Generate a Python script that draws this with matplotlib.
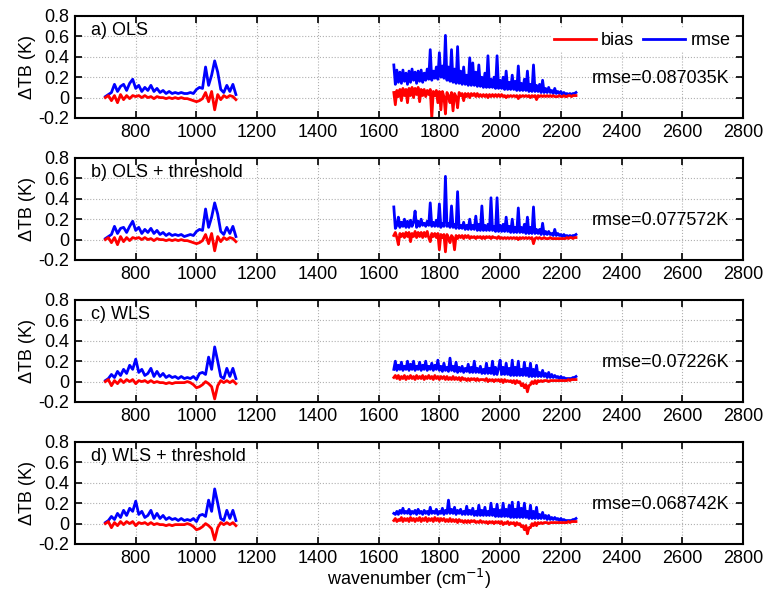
import numpy as np
import matplotlib
matplotlib.use("Agg")
import matplotlib.pyplot as plt

plt.rcParams["font.family"] = ["Liberation Sans", "DejaVu Sans"]
plt.rcParams["font.size"] = 13

# wavenumber grids of the two bands (cm-1)
wn_lw = np.arange(700, 1131, 10)
wn_sw = np.arange(1650, 2251, 5)

panel_titles = ["a) OLS", "b) OLS + threshold", "c) WLS", "d) WLS + threshold"]
panel_rmse = ["rmse=0.087035K", "rmse=0.077572K", "rmse=0.07226K", "rmse=0.068742K"]

# ---- a) OLS
a_rmse_lw = [0.01, 0.03, 0.05, 0.13, 0.06, 0.11, 0.13, 0.07, 0.14, 0.18,
             0.09, 0.12, 0.06, 0.10, 0.07, 0.12, 0.06, 0.09, 0.05, 0.07,
             0.04, 0.06, 0.04, 0.05, 0.04, 0.05, 0.04, 0.04, 0.05, 0.04,
             0.08, 0.10, 0.09, 0.30, 0.12, 0.22, 0.36, 0.25, 0.08, 0.05,
             0.12, 0.06, 0.13, 0.03]
a_bias_lw = [0.00, 0.02, -0.03, 0.02, -0.05, 0.03, -0.02, 0.02, -0.01, 0.02,
             0.01, 0.02, 0.00, 0.02, 0.00, 0.01, -0.01, 0.01, 0.00, 0.00,
             -0.01, 0.00, -0.01, 0.00, -0.01, 0.00, -0.01, -0.01, -0.02, -0.03,
             -0.04, -0.03, -0.01, 0.05, -0.04, 0.06, -0.12, 0.03, -0.02, 0.02,
             0.00, 0.02, 0.01, -0.02]
a_rmse_sw = [0.32, 0.13, 0.27, 0.15, 0.25, 0.14, 0.27, 0.16, 0.24, 0.13,
             0.26, 0.15, 0.28, 0.17, 0.25, 0.14, 0.26, 0.16, 0.27, 0.15,
             0.24, 0.17, 0.28, 0.18, 0.47, 0.17, 0.26, 0.19, 0.30, 0.18,
             0.44, 0.20, 0.31, 0.19, 0.61, 0.17, 0.30, 0.16, 0.47, 0.15,
             0.28, 0.14, 0.50, 0.14, 0.26, 0.13, 0.30, 0.13, 0.22, 0.12,
             0.39, 0.12, 0.34, 0.12, 0.25, 0.11, 0.32, 0.11, 0.20, 0.10,
             0.24, 0.10, 0.41, 0.10, 0.18, 0.10, 0.20, 0.09, 0.41, 0.09,
             0.17, 0.09, 0.20, 0.08, 0.26, 0.08, 0.15, 0.08, 0.22, 0.08,
             0.16, 0.07, 0.31, 0.07, 0.14, 0.07, 0.18, 0.07, 0.26, 0.06,
             0.13, 0.06, 0.32, 0.06, 0.12, 0.06, 0.13, 0.05, 0.17, 0.05,
             0.09, 0.05, 0.10, 0.05, 0.07, 0.04, 0.09, 0.04, 0.06, 0.04,
             0.06, 0.03, 0.05, 0.03, 0.04, 0.03, 0.04, 0.03, 0.04, 0.04,
             0.05]
a_bias_sw = [0.05, -0.07, 0.07, 0.01, 0.08, -0.03, 0.09, 0.02, 0.08, -0.05,
             0.09, 0.02, 0.10, 0.00, 0.09, 0.03, 0.10, -0.04, 0.08, 0.02,
             0.08, 0.01, 0.07, 0.03, 0.08, -0.20, 0.06, 0.02, 0.07, -0.05,
             0.06, -0.12, 0.06, 0.01, -0.16, 0.05, 0.02, -0.05, 0.05, -0.13,
             0.04, 0.01, -0.10, 0.05, 0.02, 0.04, -0.03, 0.04, 0.01, 0.04,
             0.00, 0.04, 0.02, 0.04, 0.01, 0.04, 0.01, 0.03, 0.01, 0.03,
             0.01, 0.03, 0.00, 0.03, 0.01, 0.03, 0.01, 0.03, 0.01, 0.03,
             0.01, 0.03, 0.01, 0.02, 0.00, 0.02, 0.01, 0.02, 0.01, 0.02,
             0.01, 0.02, -0.01, 0.02, 0.01, 0.02, 0.01, 0.02, 0.01, 0.02,
             0.00, 0.02, 0.01, 0.02, -0.02, 0.02, 0.01, 0.02, 0.01, 0.02,
             0.01, 0.02, 0.01, 0.02, 0.01, 0.02, 0.01, 0.01, 0.01, 0.02,
             0.01, 0.01, 0.02, 0.01, 0.01, 0.02, 0.02, 0.01, 0.02, 0.02,
             0.02]

# ---- b) OLS + threshold
b_rmse_lw = [0.01, 0.03, 0.05, 0.13, 0.06, 0.11, 0.12, 0.07, 0.13, 0.18,
             0.09, 0.12, 0.06, 0.10, 0.07, 0.11, 0.06, 0.09, 0.05, 0.07,
             0.04, 0.06, 0.04, 0.05, 0.04, 0.05, 0.03, 0.04, 0.05, 0.04,
             0.08, 0.10, 0.09, 0.30, 0.12, 0.22, 0.36, 0.25, 0.08, 0.05,
             0.12, 0.06, 0.13, 0.03]
b_bias_lw = [0.00, 0.02, -0.03, 0.02, -0.05, 0.03, -0.02, 0.02, -0.01, 0.02,
             0.01, 0.02, 0.00, 0.02, 0.00, 0.01, -0.01, 0.01, 0.00, 0.00,
             -0.01, 0.00, -0.01, 0.00, -0.01, 0.00, -0.01, -0.01, -0.02, -0.03,
             -0.04, -0.03, -0.01, 0.05, -0.04, 0.06, -0.11, 0.03, -0.02, 0.02,
             0.00, 0.02, 0.01, -0.02]
b_rmse_sw = [0.32, 0.11, 0.14, 0.22, 0.12, 0.17, 0.13, 0.20, 0.12, 0.18,
             0.12, 0.19, 0.13, 0.17, 0.28, 0.12, 0.18, 0.13, 0.20, 0.14,
             0.16, 0.13, 0.18, 0.14, 0.36, 0.13, 0.17, 0.13, 0.19, 0.13,
             0.35, 0.12, 0.16, 0.13, 0.62, 0.13, 0.16, 0.12, 0.33, 0.12,
             0.15, 0.11, 0.47, 0.11, 0.14, 0.11, 0.17, 0.10, 0.14, 0.10,
             0.20, 0.10, 0.14, 0.10, 0.23, 0.09, 0.15, 0.09, 0.33, 0.09,
             0.14, 0.09, 0.15, 0.09, 0.41, 0.09, 0.13, 0.08, 0.41, 0.08,
             0.14, 0.08, 0.15, 0.08, 0.22, 0.08, 0.13, 0.07, 0.20, 0.07,
             0.12, 0.07, 0.31, 0.07, 0.12, 0.07, 0.15, 0.06, 0.22, 0.06,
             0.12, 0.06, 0.32, 0.06, 0.10, 0.06, 0.10, 0.05, 0.16, 0.05,
             0.08, 0.05, 0.08, 0.05, 0.06, 0.04, 0.10, 0.04, 0.06, 0.04,
             0.05, 0.03, 0.05, 0.03, 0.04, 0.03, 0.04, 0.03, 0.04, 0.04,
             0.05]
b_bias_sw = [0.04, 0.07, 0.02, -0.05, 0.06, 0.03, 0.06, 0.02, 0.07, 0.03,
             0.07, -0.02, 0.06, 0.03, 0.08, 0.02, 0.07, 0.03, 0.07, 0.02,
             0.07, 0.03, 0.08, 0.02, -0.02, 0.06, 0.03, 0.06, 0.02, 0.06,
             -0.10, 0.05, 0.02, 0.05, -0.12, 0.05, 0.02, -0.03, 0.04, 0.02,
             -0.10, 0.04, 0.01, 0.04, 0.02, 0.04, 0.01, 0.04, 0.02, 0.04,
             0.01, 0.03, 0.02, 0.03, 0.01, 0.03, 0.02, 0.03, 0.01, 0.03,
             0.01, 0.03, 0.02, 0.03, 0.01, 0.03, 0.02, 0.02, 0.01, 0.03,
             0.01, 0.02, 0.01, 0.02, 0.01, 0.02, 0.01, 0.02, 0.01, 0.02,
             0.01, 0.02, 0.00, 0.02, 0.01, 0.02, 0.01, 0.02, 0.01, 0.02,
             0.01, 0.02, -0.04, 0.01, 0.02, 0.01, 0.02, 0.01, 0.01, 0.02,
             0.01, 0.01, 0.01, 0.02, 0.01, 0.01, 0.01, 0.01, 0.01, 0.01,
             0.01, 0.01, 0.01, 0.01, 0.02, 0.01, 0.02, 0.02, 0.01, 0.02,
             0.02]

# ---- c) WLS
c_rmse_lw = [0.01, 0.03, 0.07, 0.04, 0.10, 0.06, 0.12, 0.08, 0.16, 0.12,
             0.22, 0.09, 0.12, 0.06, 0.08, 0.13, 0.05, 0.10, 0.05, 0.08,
             0.04, 0.06, 0.04, 0.05, 0.03, 0.05, 0.03, 0.04, 0.03, 0.05,
             0.02, 0.08, 0.09, 0.07, 0.24, 0.12, 0.34, 0.20, 0.05, 0.03,
             0.13, 0.05, 0.13, 0.03]
c_bias_lw = [0.00, 0.02, -0.04, 0.01, -0.02, 0.02, -0.01, 0.02, 0.00, 0.02,
             -0.02, 0.01, 0.00, 0.01, -0.01, 0.01, -0.01, 0.00, -0.01, -0.01,
             -0.02, -0.01, -0.02, -0.01, -0.01, -0.01, -0.01, 0.00, -0.01, -0.03,
             -0.06, -0.05, -0.03, 0.00, -0.02, -0.05, -0.17, -0.04, 0.01, -0.01,
             0.01, -0.01, 0.01, -0.02]
c_rmse_sw = [0.12, 0.20, 0.11, 0.16, 0.12, 0.19, 0.11, 0.15, 0.12, 0.20,
             0.11, 0.17, 0.12, 0.20, 0.11, 0.15, 0.12, 0.19, 0.11, 0.16,
             0.12, 0.20, 0.11, 0.15, 0.12, 0.18, 0.11, 0.16, 0.12, 0.21,
             0.11, 0.15, 0.10, 0.18, 0.11, 0.14, 0.10, 0.23, 0.11, 0.15,
             0.10, 0.19, 0.09, 0.14, 0.10, 0.15, 0.09, 0.13, 0.10, 0.17,
             0.09, 0.14, 0.09, 0.20, 0.09, 0.13, 0.09, 0.15, 0.08, 0.12,
             0.08, 0.18, 0.08, 0.13, 0.08, 0.20, 0.07, 0.14, 0.07, 0.13,
             0.21, 0.07, 0.14, 0.07, 0.18, 0.07, 0.13, 0.06, 0.21, 0.06,
             0.14, 0.06, 0.20, 0.06, 0.12, 0.06, 0.19, 0.06, 0.13, 0.05,
             0.18, 0.05, 0.12, 0.05, 0.16, 0.05, 0.09, 0.05, 0.11, 0.05,
             0.08, 0.04, 0.09, 0.04, 0.07, 0.04, 0.06, 0.04, 0.05, 0.03,
             0.05, 0.03, 0.04, 0.03, 0.03, 0.03, 0.03, 0.03, 0.04, 0.04,
             0.05]
c_bias_sw = [0.04, 0.06, 0.03, 0.06, 0.02, 0.05, 0.03, 0.06, 0.02, 0.05,
             0.03, 0.06, 0.03, 0.05, 0.02, 0.06, 0.03, 0.05, 0.03, 0.06,
             0.02, 0.05, 0.03, 0.06, 0.03, 0.05, 0.02, 0.06, 0.03, 0.05,
             0.02, 0.05, 0.03, 0.05, 0.02, 0.05, 0.02, 0.04, 0.02, 0.05,
             0.02, 0.04, 0.02, 0.04, 0.01, 0.04, 0.02, 0.03, 0.01, 0.03,
             0.01, 0.03, 0.02, 0.03, 0.01, 0.03, 0.01, 0.02, 0.02, 0.02,
             0.01, 0.03, 0.00, 0.02, 0.01, 0.02, 0.00, 0.02, 0.01, 0.02,
             0.00, 0.02, -0.01, 0.02, 0.00, 0.01, 0.00, 0.01, -0.01, 0.01,
             -0.02, 0.01, -0.01, 0.00, -0.04, -0.02, -0.06, -0.03, -0.10, -0.04,
             -0.03, 0.00, -0.02, 0.01, -0.02, 0.01, 0.00, 0.01, 0.00, 0.01,
             0.01, 0.01, 0.00, 0.01, 0.01, 0.01, 0.01, 0.01, 0.01, 0.01,
             0.01, 0.01, 0.01, 0.01, 0.01, 0.02, 0.01, 0.02, 0.02, 0.02,
             0.02]

# ---- d) WLS + threshold
d_rmse_lw = [0.01, 0.03, 0.07, 0.04, 0.10, 0.06, 0.13, 0.08, 0.15, 0.12,
             0.22, 0.09, 0.12, 0.06, 0.08, 0.13, 0.05, 0.10, 0.05, 0.08,
             0.04, 0.06, 0.04, 0.05, 0.03, 0.05, 0.03, 0.04, 0.03, 0.05,
             0.02, 0.08, 0.09, 0.07, 0.23, 0.12, 0.34, 0.20, 0.05, 0.03,
             0.13, 0.05, 0.13, 0.03]
d_bias_lw = [0.00, 0.02, -0.04, 0.01, -0.02, 0.02, -0.01, 0.02, 0.00, 0.02,
             -0.02, 0.01, 0.00, 0.01, -0.01, 0.01, -0.01, 0.00, -0.01, -0.01,
             -0.02, -0.01, -0.02, -0.01, -0.01, -0.01, -0.01, 0.00, -0.01, -0.03,
             -0.06, -0.05, -0.03, 0.00, -0.02, -0.05, -0.16, -0.04, 0.01, -0.01,
             0.01, -0.01, 0.01, -0.02]
d_rmse_sw = [0.10, 0.09, 0.12, 0.09, 0.13, 0.10, 0.15, 0.10, 0.12, 0.10,
             0.14, 0.09, 0.12, 0.10, 0.13, 0.09, 0.14, 0.10, 0.12, 0.09,
             0.13, 0.10, 0.12, 0.09, 0.16, 0.10, 0.12, 0.10, 0.14, 0.09,
             0.12, 0.10, 0.15, 0.09, 0.13, 0.10, 0.23, 0.10, 0.14, 0.10,
             0.16, 0.09, 0.13, 0.10, 0.14, 0.09, 0.12, 0.09, 0.17, 0.09,
             0.13, 0.09, 0.15, 0.08, 0.12, 0.08, 0.18, 0.08, 0.13, 0.08,
             0.16, 0.08, 0.12, 0.08, 0.20, 0.08, 0.14, 0.07, 0.19, 0.07,
             0.13, 0.07, 0.20, 0.07, 0.14, 0.07, 0.18, 0.06, 0.21, 0.06,
             0.14, 0.06, 0.21, 0.06, 0.15, 0.06, 0.20, 0.06, 0.12, 0.05,
             0.18, 0.05, 0.12, 0.05, 0.16, 0.05, 0.09, 0.05, 0.11, 0.05,
             0.08, 0.04, 0.08, 0.04, 0.06, 0.04, 0.06, 0.04, 0.05, 0.03,
             0.05, 0.03, 0.04, 0.03, 0.03, 0.03, 0.03, 0.03, 0.04, 0.04,
             0.05]
d_bias_sw = [0.03, 0.05, 0.02, 0.04, 0.03, 0.06, 0.02, 0.05, 0.03, 0.05,
             0.02, 0.06, 0.03, 0.05, 0.02, 0.05, 0.03, 0.06, 0.02, 0.05,
             0.03, 0.06, 0.02, 0.05, 0.03, 0.05, 0.02, 0.06, 0.03, 0.05,
             0.02, 0.05, 0.03, 0.05, 0.02, 0.04, 0.02, 0.05, 0.02, 0.04,
             0.02, 0.04, 0.01, 0.04, 0.02, 0.03, 0.01, 0.03, 0.01, 0.03,
             0.01, 0.03, 0.02, 0.03, 0.01, 0.02, 0.01, 0.03, 0.01, 0.02,
             0.01, 0.02, 0.00, 0.02, 0.01, 0.02, 0.00, 0.02, 0.01, 0.02,
             0.00, 0.02, -0.01, 0.01, 0.00, 0.02, -0.01, 0.01, 0.00, 0.01,
             -0.02, 0.01, -0.01, 0.00, -0.03, -0.02, -0.06, -0.02, -0.10, -0.04,
             -0.04, 0.00, -0.02, 0.01, -0.02, 0.01, 0.00, 0.01, 0.00, 0.01,
             0.01, 0.01, 0.00, 0.01, 0.01, 0.01, 0.01, 0.01, 0.01, 0.01,
             0.01, 0.01, 0.01, 0.01, 0.01, 0.02, 0.01, 0.02, 0.02, 0.02,
             0.02]

panels = [
    (a_rmse_lw, a_bias_lw, a_rmse_sw, a_bias_sw),
    (b_rmse_lw, b_bias_lw, b_rmse_sw, b_bias_sw),
    (c_rmse_lw, c_bias_lw, c_rmse_sw, c_bias_sw),
    (d_rmse_lw, d_bias_lw, d_rmse_sw, d_bias_sw),
]

fig = plt.figure(figsize=(7.65, 5.94), dpi=100)
tops = [16, 158, 300, 442]
ax_h = 102 / 594.0
lw = 2.0

for i, (r_lw, b_lw, r_sw, b_sw) in enumerate(panels):
    ax = fig.add_axes([75 / 765.0, 1 - tops[i] / 594.0 - ax_h, 668 / 765.0, ax_h])
    ax.plot(wn_lw, r_lw, color="#0000ff", lw=lw)
    ax.plot(wn_sw, r_sw, color="#0000ff", lw=lw)
    ax.plot(wn_lw, b_lw, color="#ff0000", lw=lw)
    ax.plot(wn_sw, b_sw, color="#ff0000", lw=lw)

    ax.set_xlim(600, 2800)
    ax.set_ylim(-0.2, 0.8)
    ax.set_xticks(np.arange(800, 2801, 200))
    ax.set_yticks([-0.2, 0, 0.2, 0.4, 0.6, 0.8])
    ax.set_yticklabels(["-0.2", "0", "0.2", "0.4", "0.6", "0.8"])
    ax.grid(True, color="#b0b0b0", linestyle=":", linewidth=0.8)
    ax.tick_params(direction="in", top=True, right=True, length=5, width=1.2,
                   labelsize=13, pad=4)
    for s in ax.spines.values():
        s.set_linewidth(1.5)
    ax.set_ylabel("ΔTB (K)", fontsize=13, labelpad=2)

    ax.text(652, 0.66, panel_titles[i], fontsize=13, va="center", ha="left")
    ax.text(2755, 0.19, panel_rmse[i], fontsize=13, va="center", ha="right")

    if i == 0:
        hb, = ax.plot([], [], color="#ff0000", lw=lw)
        hr, = ax.plot([], [], color="#0000ff", lw=lw)
        leg = ax.legend([hb, hr], ["bias", "rmse"], ncol=2, loc="upper right",
                        bbox_to_anchor=(0.985, 0.87), frameon=True, fontsize=13,
                        handlelength=2.3, columnspacing=0.5, handletextpad=0.3,
                        borderpad=0.15, borderaxespad=0.0, fancybox=False)
        leg.get_frame().set_edgecolor("none")
        leg.get_frame().set_facecolor("white")
        leg.get_frame().set_alpha(1.0)
    if i == 3:
        ax.set_xlabel("wavenumber (cm$^{-1}$)", fontsize=13, labelpad=0)

fig.savefig("out.png", dpi=100)
